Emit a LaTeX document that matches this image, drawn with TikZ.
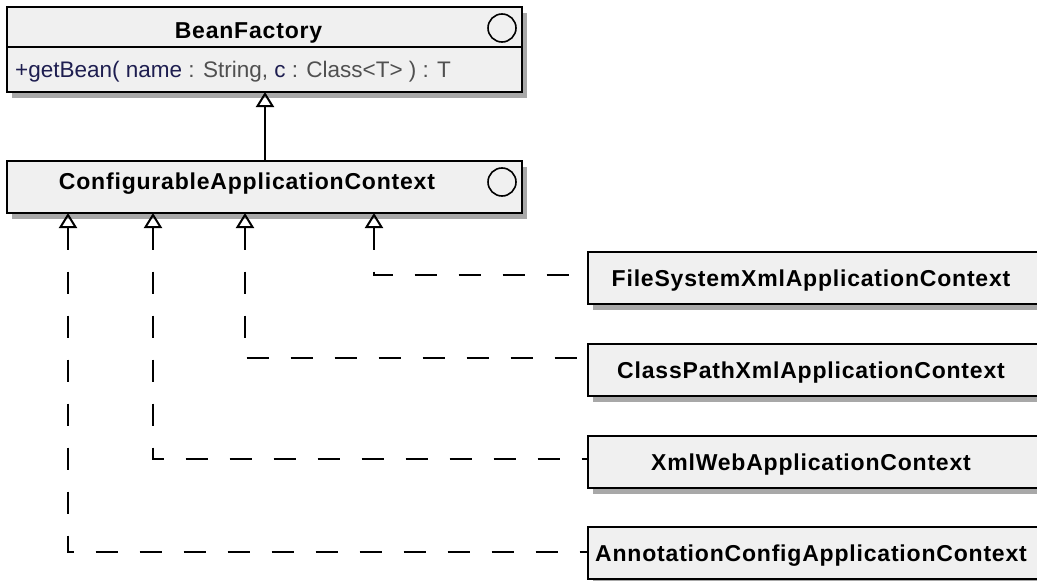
\documentclass[tikz,border=0pt]{standalone}
\usepackage{fontspec}
\setmainfont{Liberation Sans}
\newfontfamily\titlefont[LetterSpace=3.5]{Liberation Sans}
\usetikzlibrary{arrows.meta,shadows,calc}
\definecolor{boxfill}{HTML}{F0F0F0}
\definecolor{shadowgray}{HTML}{A8A8A8}
\definecolor{opnavy}{HTML}{1E1E50}
\definecolor{opgray}{HTML}{505050}
\begin{document}
\begin{tikzpicture}[x=1pt,y=-1pt,
  umlbox/.style={draw=black, line width=2.2pt, fill=boxfill, inner sep=0pt, outer sep=0pt,
    drop shadow={shadow xshift=5pt, shadow yshift=-6pt, fill=shadowgray, opacity=1}},
  titletext/.style={font=\titlefont\bfseries\fontsize{23pt}{27pt}\selectfont, inner sep=0pt, text height=16.5pt, text depth=0pt},
  childbox/.style={umlbox, titletext, minimum width=460pt, minimum height=52pt, anchor=north west},
  iface/.style={draw=black, circle, line width=1.6pt, minimum size=28pt, inner sep=0pt},
  gen/.style={line width=2pt, -{Triangle[open, width=18pt, length=15pt]}},
  realize/.style={line width=2pt, dash pattern=on 22pt off 22pt, {Triangle[open, width=18pt, length=15pt]}-}
]
\useasboundingbox (0,0) rectangle (1037,581);
\fill[white] (0,0) rectangle (1037,581);

% BeanFactory
\node[umlbox, minimum width=515pt, minimum height=85pt, anchor=north west] (bf) at (7,7) {};
\coordinate (div) at (0,47);
\draw[line width=2pt] (bf.west |- div) -- (bf.east |- div);
\node[iface] (bfc) at (502,28) {};
\node[titletext] (bft) at (248.5,30.5) {BeanFactory};
\node[anchor=base west, inner sep=0pt, font=\fontsize{22.5pt}{27pt}\selectfont] (bfm) at (15,77)
  {\color{opnavy}+getBean( name \color{opgray}: String, \color{opnavy}c \color{opgray}: Class<T> ) : T};

% ConfigurableApplicationContext
\node[umlbox, minimum width=515pt, minimum height=52pt, anchor=north west] (cac) at (7,161) {};
\node[iface] (cacc) at (502,182) {};
\node[titletext] (cact) at (247,181.5) {ConfigurableApplicationContext};

% children
\node[childbox] (fs) at (588,252) {\hspace*{-14pt}FileSystemXmlApplicationContext};
\node[childbox] (cp) at (588,344) {\hspace*{-14pt}ClassPathXmlApplicationContext};
\node[childbox] (xw) at (588,436) {\hspace*{-14pt}XmlWebApplicationContext};
\node[childbox] (an) at (588,527) {\hspace*{-14pt}AnnotationConfigApplicationContext};

% connectors
\coordinate (a0) at (265,0);
\coordinate (a1) at (374,0);
\coordinate (a2) at (245,0);
\coordinate (a3) at (153,0);
\coordinate (a4) at (68,0);
\draw[gen] (cac.north -| a0) -- (bf.south -| a0);
\draw[realize] (cac.south -| a1) |- ([yshift=3pt]fs.west);
\draw[realize] (cac.south -| a2) |- ([yshift=12pt]cp.west);
\draw[realize] (cac.south -| a3) |- ([yshift=3pt]xw.west);
\draw[realize] (cac.south -| a4) |- ([yshift=1pt]an.west);
\end{tikzpicture}
\end{document}
